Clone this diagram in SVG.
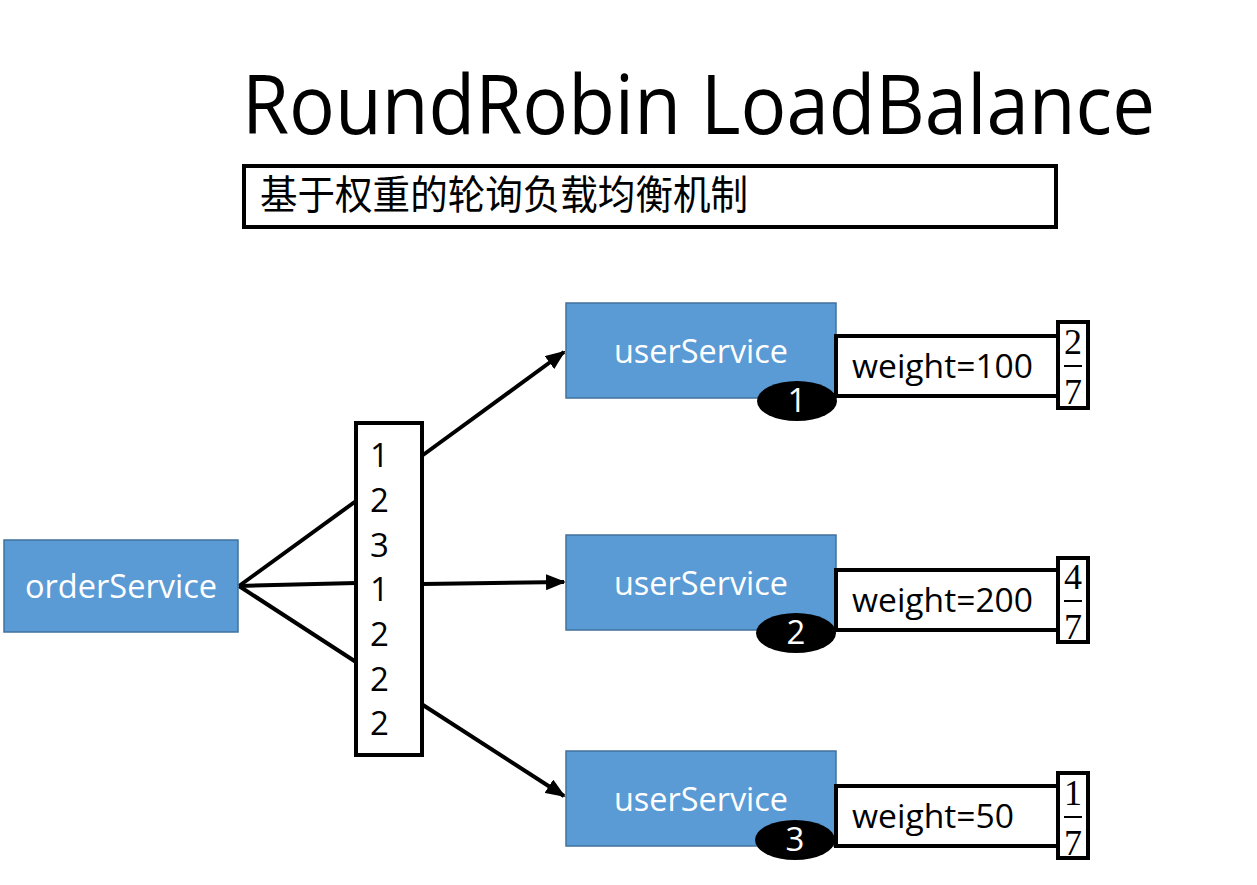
<svg xmlns="http://www.w3.org/2000/svg" width="1257" height="885" viewBox="0 0 1257 885">
<style>
.svc{fill:#5B9BD5;stroke:#41719C;stroke-width:1.5}
.wt{fill:#fff;stroke:#000;stroke-width:4}
.lbl{font-family:"Open Sans","Liberation Sans",sans-serif;font-size:33px;fill:#fff;text-anchor:middle}
.blk{font-family:"Open Sans","Liberation Sans",sans-serif;font-size:33px;fill:#000}
.frac{font-family:"Liberation Serif",serif;font-size:36px;fill:#000;text-anchor:middle}
.badge{fill:#000}
.edge{stroke:#000;stroke-width:4;fill:none}
</style>
<defs>
<marker id="arr" markerWidth="5" markerHeight="4" refX="4.5" refY="2" orient="auto" markerUnits="strokeWidth">
<path d="M0,0 L5,2 L0,4 Z" fill="#000"/>
</marker>
</defs>
<rect width="1257" height="885" fill="#fff"/>
<g id="title">
<text x="242" y="134" font-family="'Open Sans','Liberation Sans',sans-serif" font-size="82" textLength="913" lengthAdjust="spacingAndGlyphs" fill="#000">RoundRobin LoadBalance</text>
</g>
<g id="subtitle">
<rect x="244" y="166" width="812" height="61" class="wt"/>
<text x="260" y="209" font-family="'Noto Sans CJK SC',sans-serif" font-size="40" textLength="488" lengthAdjust="spacingAndGlyphs" fill="#000">基于权重的轮询负载均衡机制</text>
</g>
<g id="connectors">
<line x1="239" y1="586" x2="356" y2="501" class="edge"/>
<line x1="239" y1="586" x2="356" y2="583" class="edge"/>
<line x1="239" y1="586" x2="356" y2="662" class="edge"/>
<line x1="423" y1="455" x2="564" y2="352" class="edge" marker-end="url(#arr)"/>
<line x1="423" y1="584" x2="564" y2="582" class="edge" marker-end="url(#arr)"/>
<line x1="423" y1="705" x2="564" y2="796" class="edge" marker-end="url(#arr)"/>
</g>
<g id="orderService">
<rect x="4" y="540" width="234" height="92" class="svc"/>
<text x="121" y="598" class="lbl" textLength="192" lengthAdjust="spacingAndGlyphs">orderService</text>
</g>
<g id="sequence">
<rect x="356" y="423" width="66" height="332" class="wt"/>
<text class="blk" x="370" y="467">1</text>
<text class="blk" x="370" y="512">2</text>
<text class="blk" x="370" y="557">3</text>
<text class="blk" x="370" y="601">1</text>
<text class="blk" x="370" y="646">2</text>
<text class="blk" x="370" y="691">2</text>
<text class="blk" x="370" y="735">2</text>
</g>
<g id="userService1">
<rect x="566" y="303" width="270" height="95" class="svc"/>
<text x="701" y="363" class="lbl" textLength="174" lengthAdjust="spacingAndGlyphs">userService</text>
<rect x="836" y="336" width="222" height="60" class="wt"/>
<text x="852" y="378" class="blk" textLength="181" lengthAdjust="spacingAndGlyphs">weight=100</text>
<rect x="1058" y="322" width="30" height="86" class="wt"/>
<text x="1073" y="354" class="frac">2</text>
<line x1="1064" y1="366" x2="1082" y2="366" stroke="#000" stroke-width="2"/>
<text x="1073" y="404" class="frac">7</text>
<ellipse cx="797" cy="401" rx="40" ry="20" class="badge"/>
<text x="797" y="412" class="lbl">1</text>
</g>
<g id="userService2">
<rect x="566" y="535" width="270" height="95" class="svc"/>
<text x="701" y="595" class="lbl" textLength="174" lengthAdjust="spacingAndGlyphs">userService</text>
<rect x="836" y="570" width="222" height="60" class="wt"/>
<text x="852" y="612" class="blk" textLength="181" lengthAdjust="spacingAndGlyphs">weight=200</text>
<rect x="1058" y="558" width="30" height="84" class="wt"/>
<text x="1073" y="589" class="frac">4</text>
<line x1="1064" y1="601" x2="1082" y2="601" stroke="#000" stroke-width="2"/>
<text x="1073" y="639" class="frac">7</text>
<ellipse cx="796" cy="633" rx="40" ry="20" class="badge"/>
<text x="796" y="644" class="lbl">2</text>
</g>
<g id="userService3">
<rect x="566" y="751" width="270" height="95" class="svc"/>
<text x="701" y="811" class="lbl" textLength="174" lengthAdjust="spacingAndGlyphs">userService</text>
<rect x="836" y="786" width="222" height="60" class="wt"/>
<text x="852" y="828" class="blk" textLength="162" lengthAdjust="spacingAndGlyphs">weight=50</text>
<rect x="1058" y="773" width="30" height="85" class="wt"/>
<text x="1073" y="805" class="frac">1</text>
<line x1="1064" y1="817" x2="1082" y2="817" stroke="#000" stroke-width="2"/>
<text x="1073" y="855" class="frac">7</text>
<ellipse cx="795" cy="840" rx="40" ry="20" class="badge"/>
<text x="795" y="851" class="lbl">3</text>
</g>
</svg>
